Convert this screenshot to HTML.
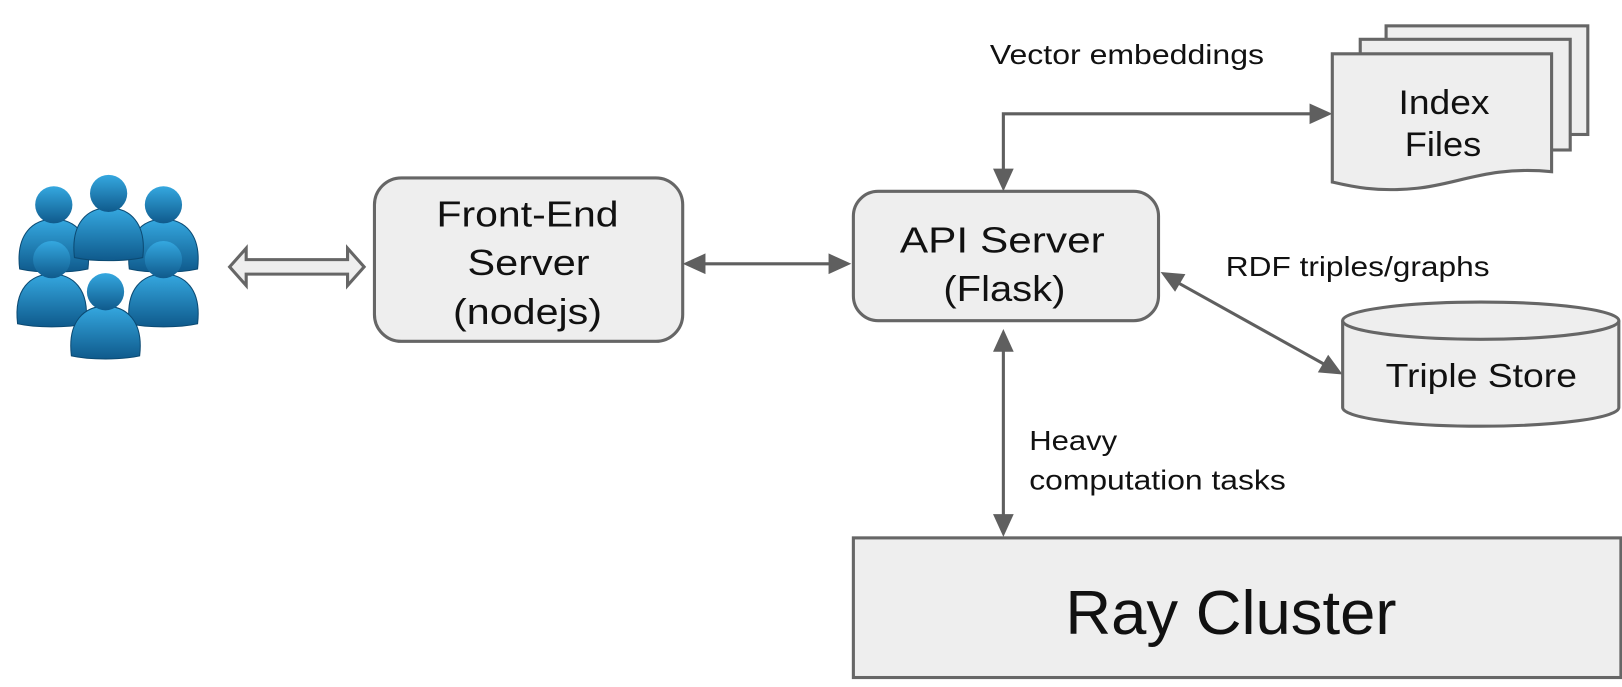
<!DOCTYPE html>
<html><head><meta charset="utf-8"><style>
html,body{margin:0;padding:0;background:#fff;}
svg{display:block;}
text{font-family:"Liberation Sans",Arial,sans-serif;fill:#111;}
</style></head><body>
<svg width="1622" height="687" viewBox="0 0 1622 687" xmlns="http://www.w3.org/2000/svg" font-family="Liberation Sans, Arial, sans-serif">
<defs>
<linearGradient id="pg" x1="0" y1="0" x2="0" y2="1">
<stop offset="0" stop-color="#35a8e0"/><stop offset="1" stop-color="#0f5a8c"/>
</linearGradient>
<g id="person">
<path d="M-33,62 C-37,28 -20,14 0,14 C20,14 37,28 33,62 C15,66 -15,66 -33,62 Z" fill="url(#pg)" stroke="#0b4a73" stroke-width="1"/>
<circle cx="0" cy="0" r="18" fill="url(#pg)"/>
</g>
</defs>
<g transform="scale(1.0344)">
<use href="#person" x="52" y="198"/>
<use href="#person" x="158" y="198"/>
<use href="#person" x="105" y="187"/>
<use href="#person" x="50" y="251"/>
<use href="#person" x="158" y="251"/>
<use href="#person" x="102" y="282"/>
<polygon points="222,258 238,240 238,251 336,251 336,240 352,258 336,276 336,265 238,265 238,276" fill="#eee" stroke="#666" stroke-width="3"/>
<rect x="362" y="172" width="298" height="158" rx="26" fill="#eee" stroke="#666" stroke-width="3"/>
<text x="510" y="219" font-size="35" text-anchor="middle" textLength="176" lengthAdjust="spacingAndGlyphs">Front-End</text>
<text x="511" y="266" font-size="35" text-anchor="middle" textLength="118" lengthAdjust="spacingAndGlyphs">Server</text>
<text x="510" y="313" font-size="35" text-anchor="middle" textLength="144" lengthAdjust="spacingAndGlyphs">(nodejs)</text>
<rect x="825" y="185" width="295" height="125" rx="24" fill="#eee" stroke="#666" stroke-width="3"/>
<text x="969" y="244" font-size="35" text-anchor="middle" textLength="198" lengthAdjust="spacingAndGlyphs">API Server</text>
<text x="971" y="291" font-size="35" text-anchor="middle" textLength="118" lengthAdjust="spacingAndGlyphs">(Flask)</text>
<rect x="825" y="520" width="742" height="135" fill="#eee" stroke="#666" stroke-width="3"/>
<text x="1190" y="613" font-size="60" text-anchor="middle" textLength="320" lengthAdjust="spacingAndGlyphs">Ray Cluster</text>
<g stroke="#5f5f5f" stroke-width="3" fill="none">
<line x1="680" y1="255" x2="802" y2="255"/>
<polyline points="970,165 970,110 1268,110"/>
<line x1="970" y1="338" x2="970" y2="498"/>
<line x1="1140" y1="274" x2="1280" y2="352"/>
</g>
<g fill="#5f5f5f">
<polygon points="660,255 682,245 682,265"/>
<polygon points="823,255 801,245 801,265"/>
<polygon points="970,185 960,163 980,163"/>
<polygon points="1288,110 1266,100 1266,120"/>
<polygon points="970,318 960,340 980,340"/>
<polygon points="970,519 960,497 980,497"/>
<polygon points="1122,263 1146,265 1136,282"/>
<polygon points="1298,362 1274,360 1284,343"/>
</g>
<g fill="#eee" stroke="#666" stroke-width="3">
<rect x="1340" y="25" width="195" height="105"/>
<rect x="1315" y="38" width="203" height="107"/>
<path d="M1288,52 H1500 V166 C1440,160 1410,178 1370,182 C1330,186 1305,180 1288,176 Z"/>
</g>
<text x="1396" y="110" font-size="33" text-anchor="middle" textLength="88" lengthAdjust="spacingAndGlyphs">Index</text>
<text x="1395" y="151" font-size="33" text-anchor="middle" textLength="74" lengthAdjust="spacingAndGlyphs">Files</text>
<path d="M1298,310 V394 A133.5,18 0 0 0 1565,394 V310" fill="#eee" stroke="#666" stroke-width="3"/>
<ellipse cx="1431.5" cy="310" rx="133.5" ry="18" fill="#eee" stroke="#666" stroke-width="3"/>
<text x="1432" y="374" font-size="32" text-anchor="middle" textLength="185" lengthAdjust="spacingAndGlyphs">Triple Store</text>
<text x="957" y="62" font-size="27" textLength="265" lengthAdjust="spacingAndGlyphs">Vector embeddings</text>
<text x="1185" y="267" font-size="27" textLength="255" lengthAdjust="spacingAndGlyphs">RDF triples/graphs</text>
<text x="995" y="435" font-size="27" textLength="85" lengthAdjust="spacingAndGlyphs">Heavy</text>
<text x="995" y="473" font-size="27" textLength="248" lengthAdjust="spacingAndGlyphs">computation tasks</text>
</g>
</svg>
</body></html>
